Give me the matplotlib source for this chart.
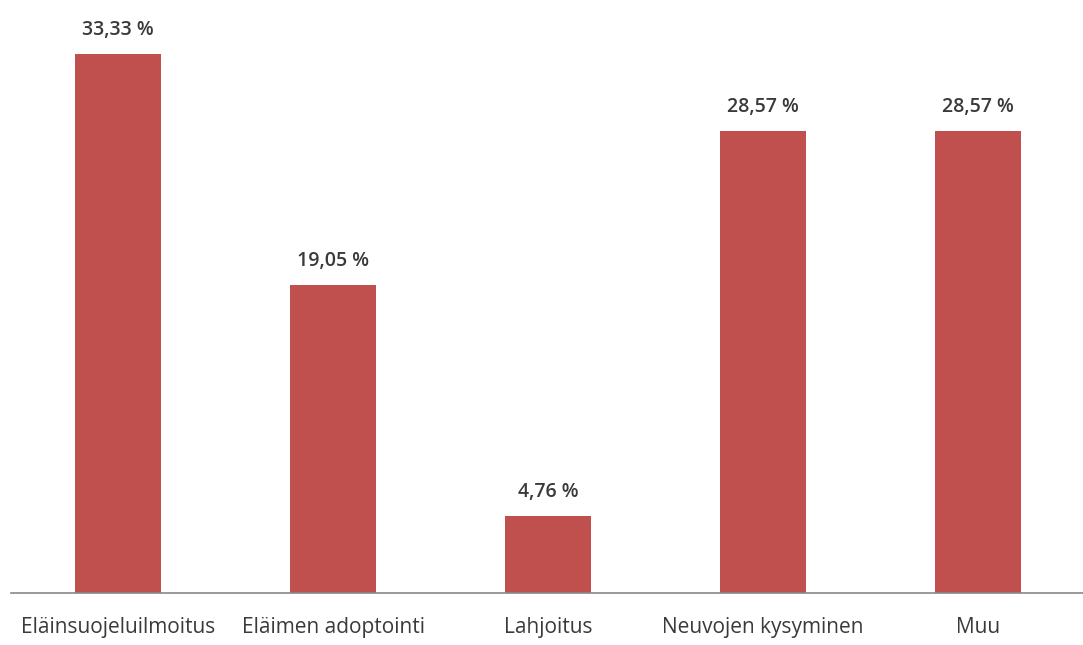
import matplotlib.pyplot as plt
import numpy as np

# Data
categories = ['Eläinsuojeluilmoitus', 'Eläimen adoptointi', 'Lahjoitus',
              'Neuvojen kysyminen', 'Muu']
shares = [33.33, 19.05, 4.76, 28.57, 28.57]

plt.rcParams['font.family'] = ['Open Sans', 'DejaVu Sans']

fig = plt.figure(figsize=(10.83, 6.45), dpi=100)
ax = fig.add_axes([11 / 1083, 52 / 645, 1072 / 1083, 583 / 645])

x = np.arange(len(categories))
bars = ax.bar(x, shares, width=0.4, color='#C0504D')

for bar, val in zip(bars, shares):
    label = f'{val:.2f} %'.replace('.', ',')
    ax.text(bar.get_x() + bar.get_width() / 2, val + 0.85, label,
            ha='center', va='bottom', fontsize=14, fontweight='semibold',
            color='#3a3a3a')

ax.set_xlim(-0.498, 4.488)
ax.set_ylim(0, 36.05)
ax.set_xticks(x)
ax.set_xticklabels(categories, fontsize=15, color='#3a3a3a')
ax.tick_params(axis='x', length=0, pad=17)
ax.set_yticks([])

for side in ['top', 'right', 'left']:
    ax.spines[side].set_visible(False)
ax.spines['bottom'].set_color('#888888')
ax.spines['bottom'].set_linewidth(1.2)

fig.savefig('out.png', dpi=100)
